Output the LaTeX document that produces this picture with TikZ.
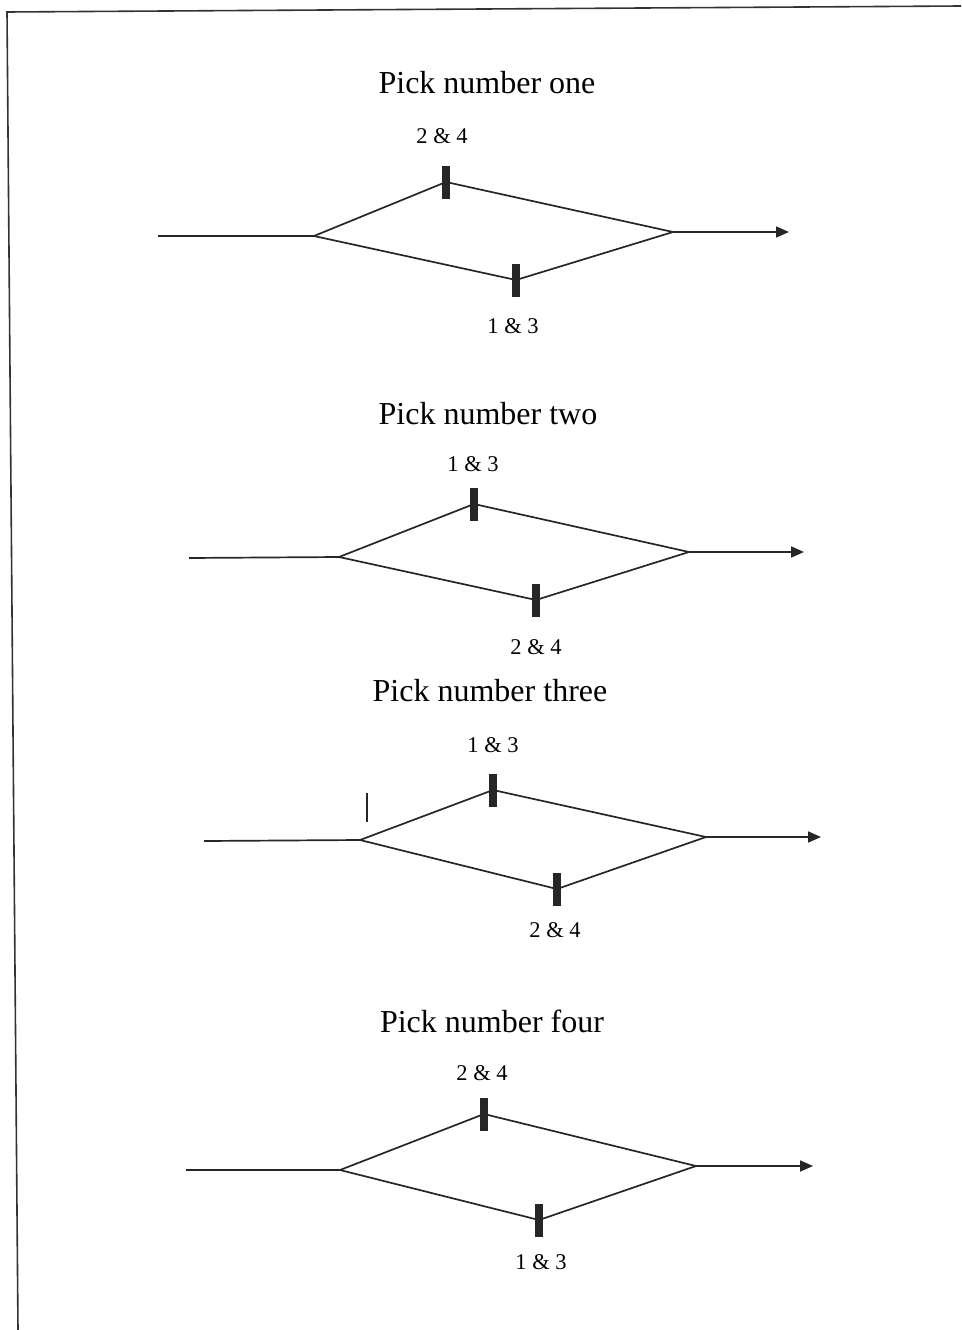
\documentclass[tikz,border=0pt]{standalone}
\usepackage{fontspec}
\setmainfont{Liberation Serif}
\usetikzlibrary{arrows.meta}
\begin{document}
\begin{tikzpicture}[x=1pt,y=-1pt,
  wire/.style={line width=1.7pt,black!85},
  outarrow/.style={wire,-{Triangle[length=13pt,width=11pt]}},
  barbox/.style={draw=none,fill=black!85,minimum width=8pt,minimum height=33pt,inner sep=0pt,outer sep=0pt},
  titletext/.style={anchor=base,inner sep=0pt,font=\fontsize{32}{38}\selectfont},
  labtext/.style={anchor=base,inner sep=0pt,font=\fontsize{22.5}{26}\selectfont},
  frame/.style={line width=1.6pt,black!80}]
\useasboundingbox (0,0) rectangle (961,1330);
% frame
\coordinate (fl) at (7,12);
\coordinate (fr) at (961,6);
\coordinate (fb) at (18,1330);
\draw[frame] (fr) -- (fl) -- (fb);

% ---------- Pick number one
\node[titletext] (t1) at (487,93) {Pick number one};
\node[labtext] (lu1) at (442,143) {2 \& 4};
\node[labtext] (ld1) at (513,333) {1 \& 3};
\node[barbox] (u1) at (446,182) {};
\node[barbox] (d1) at (516,280) {};
\coordinate (s1) at (158,236);
\coordinate (a1) at (314,236);
\coordinate (b1) at (673,232);
\coordinate (e1) at (789,232);
\draw[wire] (s1) -- (a1) -- (u1.center) -- (b1);
\draw[wire] (a1) -- (d1.center) -- (b1);
\draw[outarrow] (b1) -- (e1);

% ---------- Pick number two
\node[titletext] (t2) at (488,424) {Pick number two};
\node[labtext] (lu2) at (473,471) {1 \& 3};
\node[labtext] (ld2) at (536,654) {2 \& 4};
\node[barbox] (u2) at (474,504) {};
\node[barbox] (d2) at (536,600) {};
\coordinate (s2) at (189,558);
\coordinate (a2) at (339,557);
\coordinate (b2) at (689,552);
\coordinate (e2) at (804,552);
\draw[wire] (s2) -- (a2) -- (u2.center) -- (b2);
\draw[wire] (a2) -- (d2.center) -- (b2);
\draw[outarrow] (b2) -- (e2);

% ---------- Pick number three
\node[titletext] (t3) at (490,701) {Pick number three};
\node[labtext] (lu3) at (493,752) {1 \& 3};
\node[labtext] (ld3) at (555,937) {2 \& 4};
\node[barbox] (u3) at (493,790) {};
\node[barbox] (d3) at (557,889) {};
\coordinate (s3) at (204,841);
\coordinate (a3) at (360,840);
\coordinate (b3) at (706,837);
\coordinate (e3) at (821,837);
\coordinate (k3a) at (367,793);
\coordinate (k3b) at (367,822);
\draw[wire] (s3) -- (a3) -- (u3.center) -- (b3);
\draw[wire] (a3) -- (d3.center) -- (b3);
\draw[outarrow] (b3) -- (e3);
\draw[wire,line width=2.2pt] (k3a) -- (k3b);

% ---------- Pick number four
\node[titletext] (t4) at (492,1032) {Pick number four};
\node[labtext] (lu4) at (482,1080) {2 \& 4};
\node[labtext] (ld4) at (541,1269) {1 \& 3};
\node[barbox] (u4) at (484,1114) {};
\node[barbox] (d4) at (539,1220) {};
\coordinate (s4) at (186,1170);
\coordinate (a4) at (340,1170);
\coordinate (b4) at (696,1166);
\coordinate (e4) at (813,1166);
\draw[wire] (s4) -- (a4) -- (u4.center) -- (b4);
\draw[wire] (a4) -- (d4.center) -- (b4);
\draw[outarrow] (b4) -- (e4);
\end{tikzpicture}
\end{document}
